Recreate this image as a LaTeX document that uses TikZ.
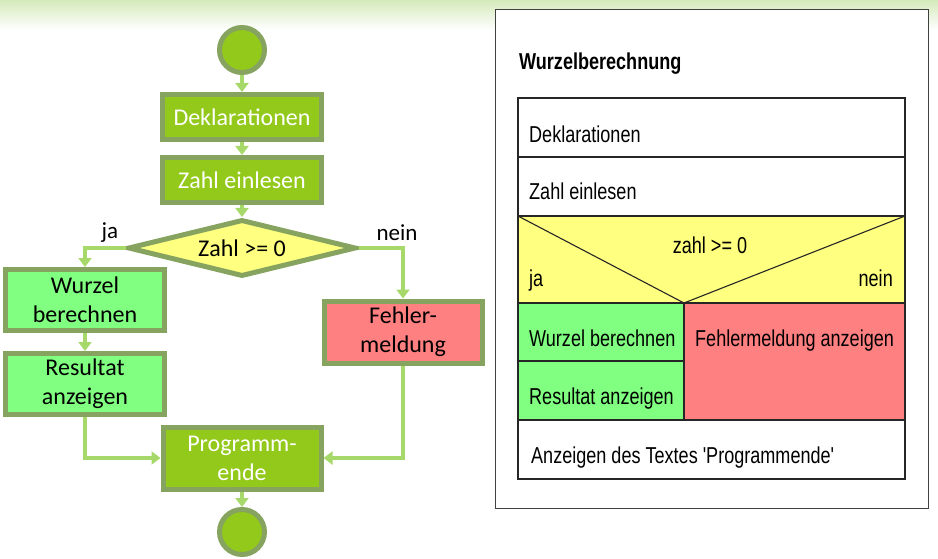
\documentclass[tikz,border=0pt]{standalone}
\usepackage{graphicx}
\usepackage{fontspec}
\setmainfont{Carlito}
\newfontfamily\nsdfont{Liberation Sans}
\usetikzlibrary{shapes.geometric,arrows.meta}
\definecolor{blattgruen}{HTML}{93C91B}
\definecolor{rand}{HTML}{86A45F}
\definecolor{pfeil}{HTML}{A6D96A}
\definecolor{hellgruen}{HTML}{80FF80}
\definecolor{hellrot}{HTML}{FF8080}
\definecolor{hellgelb}{HTML}{FFFF80}
\definecolor{kopf}{HTML}{D5EABB}
\newcommand\schmal[1]{\scalebox{0.785}[1]{#1}}
\tikzset{
  schritt/.style={draw=rand,line width=5pt,fill=blattgruen,text=white,
    minimum width=159pt,minimum height=45pt,align=center,inner sep=2pt,
    font=\fontsize{24}{29}\selectfont},
  ja zweig/.style={schritt,fill=hellgruen,text=black,minimum height=61pt},
  nein zweig/.style={schritt,fill=hellrot,text=black,minimum width=158pt,minimum height=62pt},
  punkt/.style={circle,draw=rand,line width=5pt,fill=blattgruen,minimum size=45pt,inner sep=0pt},
  frage/.style={diamond,draw=rand,line width=5pt,fill=hellgelb,aspect=4,
    minimum width=228pt,minimum height=57pt,inner sep=0pt,font=\fontsize{24}{29}\selectfont},
  fluss/.style={draw=pfeil,line width=3.5pt,-{Triangle[width=13pt,length=9pt]}},
  marke/.style={font=\fontsize{23}{27}\selectfont},
  nsd/.style={draw=black!85,line width=1.1pt},
  nsdtext/.style={anchor=base west,inner sep=0pt,font=\nsdfont\fontsize{23}{27}\selectfont},
}
\begin{document}
\begin{tikzpicture}[x=1pt,y=-1pt]
  \useasboundingbox (0,0) rectangle (938,559);
  % Verlauf oben
  \foreach \i in {0,...,29} {
    \pgfmathsetmacro\anteil{100-\i*100/30}
    \fill[kopf!\anteil!white] (0,\i) rectangle (938,\i+1.2);
  }

  % Flussdiagramm
  \node[punkt] (start) at (242,50) {};
  \node[schritt] (dekl) at (242,117) {Deklarationen};
  \node[schritt] (lesen) at (242,180) {Zahl einlesen};
  \node[frage] (test) at (242,248) {Zahl >= 0};
  \node[ja zweig] (wurzel) at (85,300) {Wurzel\\berechnen};
  \node[ja zweig] (ausgabe) at (85,384) {Resultat\\anzeigen};
  \node[nein zweig] (fehler) at (403,332) {Fehler-\\meldung};
  \node[schritt,minimum width=158pt,minimum height=62pt] (ende) at (242,458) {Programm-\\ende};
  \node[punkt] (stop) at (242,532) {};
  \node[marke] (ja) at (110,233) {ja};
  \node[marke] (nein) at (397,233) {nein};
  \draw[fluss] (start) -- (dekl);
  \draw[fluss] (dekl) -- (lesen);
  \draw[fluss] (lesen) -- (test);
  \draw[fluss] (test.west) -| (wurzel.north);
  \draw[fluss] (test.east) -| (fehler.north);
  \draw[fluss] (wurzel) -- (ausgabe);
  \draw[fluss] (ausgabe.south) |- (ende.west);
  \draw[fluss] (fehler.south) |- (ende.east);
  \draw[fluss] (ende) -- (stop);

  % Struktogramm
  \draw[draw=black!75,line width=1pt,fill=white] (495,10) rectangle (928,508);
  \node[nsdtext,font=\nsdfont\bfseries\fontsize{23}{27}\selectfont] (titel) at (519,70) {\schmal{Wurzelberechnung}};
  \draw[nsd,fill=white] (518,98) rectangle (905,216);
  \draw[nsd] (518,157) -- (905,157);
  \draw[nsd,fill=hellgelb] (518,216) rectangle (905,303);
  \draw[nsd] (518,216) -- (684,303) -- (905,216);
  \draw[nsd,fill=hellgruen] (518,303) rectangle (684,420);
  \draw[nsd] (518,361) -- (684,361);
  \draw[nsd,fill=hellrot] (684,303) rectangle (905,420);
  \draw[nsd,fill=white] (518,420) rectangle (905,479);
  \node[nsdtext] (s1) at (529,143) {\schmal{Deklarationen}};
  \node[nsdtext] (s2) at (529,200) {\schmal{Zahl einlesen}};
  \node[nsdtext,anchor=base] (bed) at (710,253) {\schmal{zahl >= 0}};
  \node[nsdtext] (sja) at (529,287) {\schmal{ja}};
  \node[nsdtext,anchor=base east] (snein) at (893,287) {\schmal{nein}};
  \node[nsdtext] (s3) at (529,346) {\schmal{Wurzel berechnen}};
  \node[nsdtext] (s4) at (529,404) {\schmal{Resultat anzeigen}};
  \node[nsdtext] (s5) at (695,346) {\schmal{Fehlermeldung anzeigen}};
  \node[nsdtext] (s6) at (531,463) {\schmal{Anzeigen des Textes 'Programmende'}};
\end{tikzpicture}
\end{document}
